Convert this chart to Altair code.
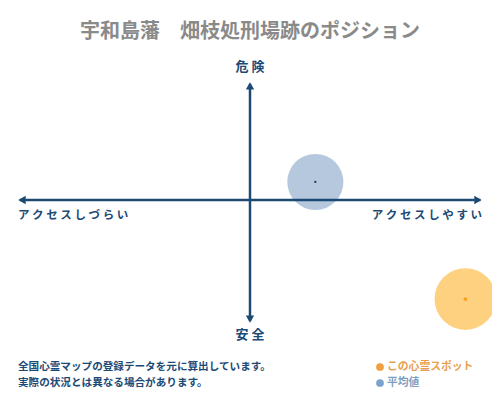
import altair as alt
import pandas as pd

# data
series = ["平均値", "この心霊スポット"]
access = [0.27, 0.89]      # x: アクセスしづらい(-) … アクセスしやすい(+)
danger = [0.094, -0.516]   # y: 安全(-) … 危険(+)
fill_colors = ["#a8bed8", "#fdc969"]
dot_colors = ["#1f3550", "#f5a01e"]
bubble_sizes = [3150, 3800]

title_text = "宇和島藩　畑枝処刑場跡のポジション"
label_top = "危 険"
label_bottom = "安 全"
label_left = "ア ク セ ス し づ ら い"
label_right = "ア ク セ ス し や す い"
note_lines = ["全国心霊マップの登録データを元に算出しています。",
              "実際の状況とは異なる場合があります。"]
legend_labels = ["この心霊スポット", "平均値"]
legend_colors = ["#f0a040", "#7aa3cc"]
legend_text_colors = ["#e8a050", "#7f9fc0"]

NAVY = "#1c4a75"
FONT = "Noto Sans CJK JP"

W, H = 484, 384
xs = alt.Scale(domain=[-1, 1], range=[0, W])
ys = alt.Scale(domain=[-1, 1], range=[H, 0])
X_TIP = 0.962
Y_TOP = 0.615
Y_BOT = -0.64

df = pd.DataFrame({"series": series, "x": access, "y": danger,
                   "fill": fill_colors, "dot": dot_colors, "size": bubble_sizes})

bubbles = alt.Chart(df).mark_circle(opacity=0.85).encode(
    x=alt.X("x:Q", scale=xs, axis=None),
    y=alt.Y("y:Q", scale=ys, axis=None),
    size=alt.Size("size:Q", scale=None, legend=None),
    color=alt.Color("fill:N", scale=None, legend=None),
)
centers = alt.Chart(df).mark_circle(opacity=1).encode(
    x=alt.X("x:Q", scale=xs, axis=None),
    y=alt.Y("y:Q", scale=ys, axis=None),
    size=alt.condition(alt.datum.series == "平均値", alt.value(5), alt.value(14)),
    color=alt.Color("dot:N", scale=None, legend=None),
)

hline = alt.Chart().mark_rule(color=NAVY, strokeWidth=2.5).encode(
    x=alt.X(datum=-X_TIP + 0.01, scale=xs, axis=None), x2=alt.datum(X_TIP - 0.01),
    y=alt.Y(datum=0, scale=ys, axis=None))
vline = alt.Chart().mark_rule(color=NAVY, strokeWidth=2.5).encode(
    y=alt.Y(datum=Y_TOP - 0.01, scale=ys, axis=None), y2=alt.datum(Y_BOT + 0.01),
    x=alt.X(datum=0, scale=xs, axis=None))

def head(shape, xv, yv):
    return alt.Chart().mark_point(shape=shape, filled=True, color=NAVY, size=70, opacity=1).encode(
        x=alt.X(datum=xv, scale=xs, axis=None), y=alt.Y(datum=yv, scale=ys, axis=None))

heads = [head("triangle-left", -X_TIP + 0.02, 0), head("triangle-right", X_TIP - 0.02, 0),
         head("triangle-up", 0, Y_TOP - 0.02), head("triangle-down", 0, Y_BOT + 0.02)]

def txt(text, x, y, size, color, align="center", weight="bold", baseline="middle"):
    return alt.Chart().mark_text(text=text, font=FONT, fontSize=size, color=color,
                                 align=align, baseline=baseline, fontWeight=weight).encode(
        x=alt.value(x), y=alt.value(y))

title = txt(title_text, 242, 24, 20, "#8a8a8a")
t_top = txt(label_top, 242, 59, 13, NAVY)
t_bot = txt(label_bottom, 242, 327, 13, NAVY)
t_left = txt(label_left, 10, 208, 11.5, NAVY, align="left")
t_right = txt(label_right, 474, 208, 11.5, NAVY, align="right")
n1 = txt(note_lines[0], 10, 359, 10.6, NAVY, align="left")
n2 = txt(note_lines[1], 10, 375, 10.6, NAVY, align="left")

legend_layers = []
for i, (lab, c, tc) in enumerate(zip(legend_labels, legend_colors, legend_text_colors)):
    yy = 359 + 16 * i
    legend_layers.append(alt.Chart().mark_circle(size=60, opacity=1, color=c).encode(
        x=alt.value(372), y=alt.value(yy)))
    legend_layers.append(txt(lab, 379, yy, 10.8, tc, align="left"))

chart = alt.layer(bubbles, centers, hline, vline, *heads, title, t_top, t_bot, t_left,
                  t_right, n1, n2, *legend_layers).properties(
    width=W, height=H, autosize=alt.AutoSizeParams(type="none"),
    padding=0,
    background="white",
).configure_view(stroke=None)

chart.save("out.html", embed_options={"renderer": "svg", "actions": False})
